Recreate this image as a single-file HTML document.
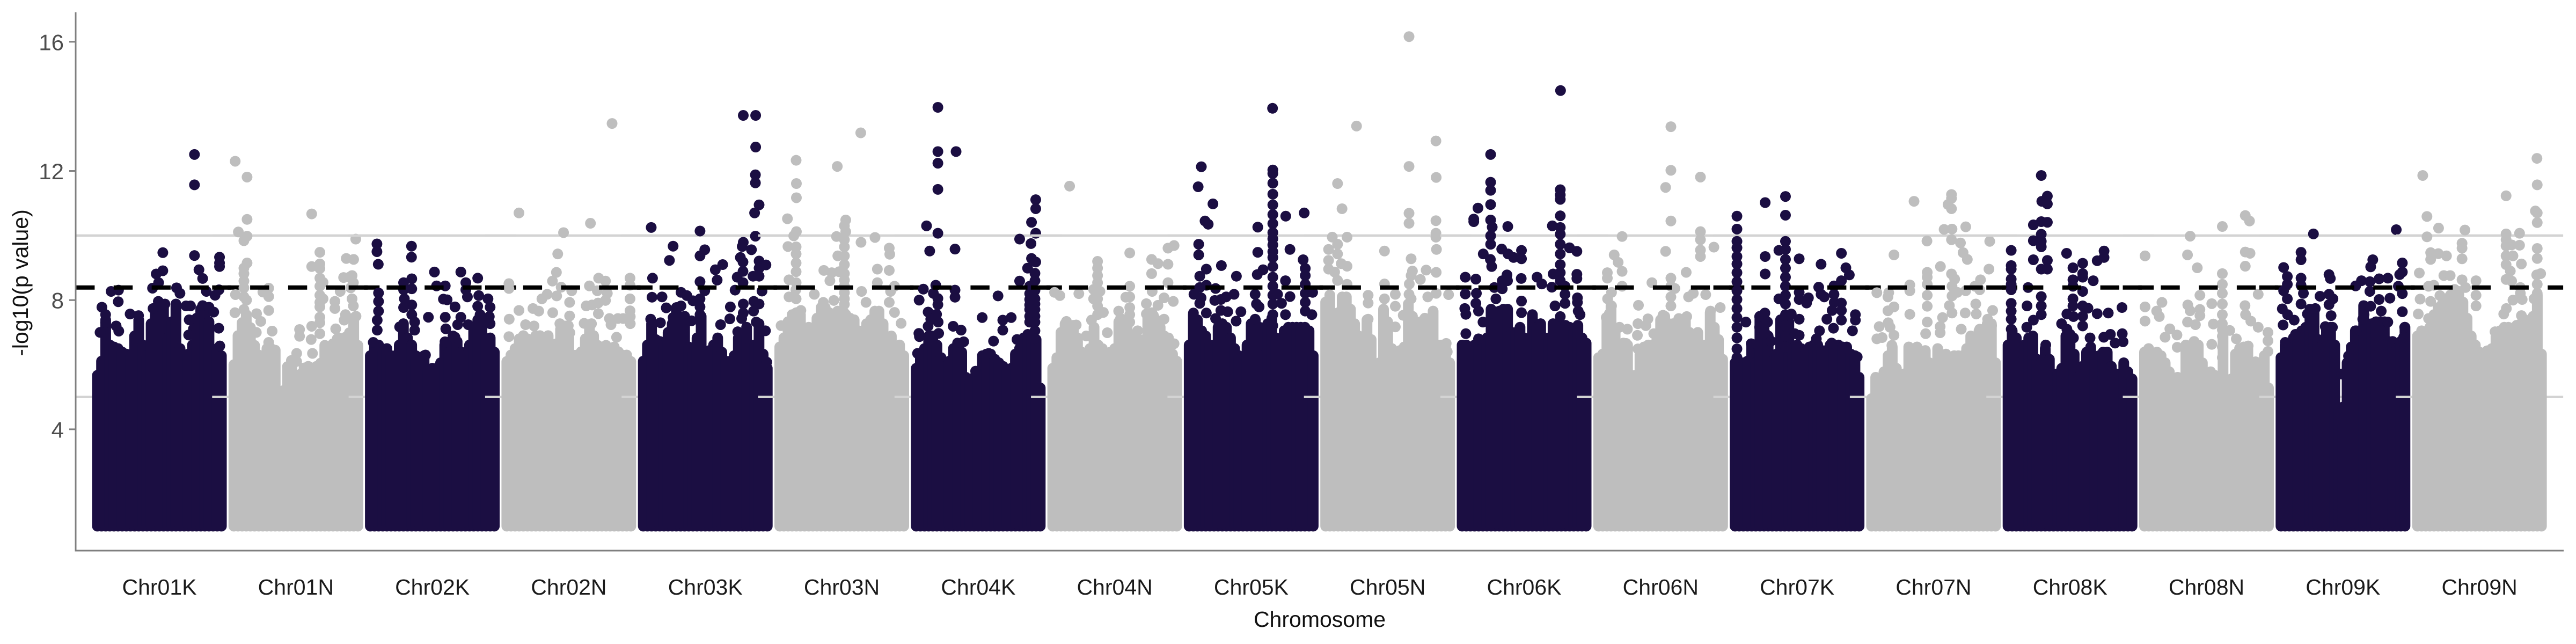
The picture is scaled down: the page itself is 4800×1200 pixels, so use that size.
<!DOCTYPE html>
<html lang="en">
<head>
<meta charset="utf-8">
<title>Manhattan plot</title>
<style>
html,body{margin:0;padding:0;background:#fff;width:4800px;height:1200px;overflow:hidden}
svg{display:block}
text{font-family:"Liberation Sans",sans-serif}
</style>
</head>
<body>
<svg id="chart" xmlns="http://www.w3.org/2000/svg" width="4800" height="1200" viewBox="0 0 4800 1200">
<rect x="0" y="0" width="4800" height="1200" fill="#ffffff"/>
<g id="panels"></g>
<g id="axes"></g>
<text x="2459" y="1168" font-size="41" fill="#111" text-anchor="middle">Chromosome</text>
<text transform="translate(52,527) rotate(-90)" font-size="41" fill="#111" text-anchor="middle">-log10(p value)</text>
</svg>
<script>
const categories=['Chr01K','Chr01N','Chr02K','Chr02N','Chr03K','Chr03N','Chr04K','Chr04N','Chr05K','Chr05N','Chr06K','Chr06N','Chr07K','Chr07N','Chr08K','Chr08N','Chr09K','Chr09N'];
const yTicks=[4,8,12,16];
const genomeWideThreshold=8.39;
const guideLevels=[10,5];
const baseLevel=1;

const top01K=[5.67,6.11,7.39,6.61,6.55,6.5,6.39,6.33,6.28,6.89,7.39,6.61,6.28,7.27,7.72,7.88,7.77,6.83,7.33,7.88,6.5,6.28,6.33,6.61,7.44,7.72,7.72,7.33,6.39,6.5,6.28];
const hits01K=[[368,12.51],[368,11.57],[248,9.47],[368,9.38],[463,9.33],[463,9.15],[463,9.04],[248,8.91],[223,8.81],[385,8.94],[399,8.67],[232,8.54],[209,8.37],[300,8.38],[313,8.21],[80,8.31],[52,8.27],[79,7.95],[17,7.78],[31,7.55],[31,7.3],[413,8.27],[461,8.32],[446,8.15],[336,7.82],[353,7.82],[399,7.83],[423,7.78],[441,7.63],[124,7.57],[156,7.52],[71,7.2],[81,7.04],[10,7.0],[348,7.39],[364,7.11],[346,6.92],[460,7.13],[464,6.58],[211,7.74],[231,7.96],[256,7.88]];

const top01N=[6.0,6.9,7.3,7.55,7.15,6.6,6.3,6.15,6.5,6.5,6.45,4.2,5.2,5.9,6.05,5.55,5.7,5.9,5.95,5.9,5.95,6.05,6.6,6.4,6.65,6.8,6.7,6.85,6.9,7.45,6.6];
const hits01N=[[5,12.3],[50,11.81],[50,10.5],[17,10.11],[50,9.98],[38,9.84],[295,10.67],[462,9.89],[326,9.48],[426,9.29],[454,9.26],[50,9.15],[38,8.99],[38,8.82],[38,8.59],[38,8.38],[38,8.1],[48,8.0],[6,8.17],[38,7.71],[4,7.61],[86,7.58],[43,7.38],[102,7.34],[132,8.37],[110,8.25],[132,8.11],[132,7.68],[145,7.04],[85,7.0],[132,6.69],[168,5.14],[295,9.04],[326,9.12],[326,8.98],[326,8.68],[338,8.55],[326,8.43],[326,8.15],[338,8.04],[326,7.93],[326,7.79],[383,7.96],[383,7.74],[326,7.47],[326,7.3],[295,7.19],[249,7.09],[249,6.88],[386,7.11],[326,6.96],[293,6.78],[298,6.35],[238,6.35],[218,6.13],[238,6.1],[203,5.94],[213,5.66],[210,5.25],[448,8.76],[416,8.7],[438,8.71],[453,8.54],[443,8.38],[403,8.27],[448,8.04],[453,7.82],[423,7.55],[463,7.5],[418,7.38],[453,7.19],[438,6.99],[398,6.83]];

const top02K=[6.28,6.55,6.61,6.39,6.5,6.28,6.28,6.61,7.27,6.83,6.61,6.28,6.17,6.28,5.83,5.89,5.89,6.06,6.61,6.39,6.89,6.72,6.39,6.28,6.61,7.16,7.39,7.33,6.78,6.83,6.39];
const hits02K=[[25,9.74],[25,9.5],[30,9.11],[156,9.67],[156,9.33],[243,8.87],[343,8.87],[362,8.54],[407,8.68],[251,8.44],[284,8.44],[157,8.66],[157,8.35],[126,8.54],[126,8.32],[362,8.32],[368,8.1],[31,8.22],[31,7.96],[31,7.66],[26,7.38],[26,7.07],[11,6.69],[129,8.04],[157,7.85],[126,7.77],[157,7.55],[168,7.32],[168,7.07],[111,7.17],[220,7.47],[277,8.03],[291,8.01],[321,7.79],[284,7.47],[286,7.11],[343,7.47],[331,7.24],[371,7.24],[411,8.14],[446,8.04],[407,7.81],[454,7.78],[451,7.49],[454,7.27],[416,7.55],[321,6.85],[209,6.3],[283,6.71]];

const top02N=[6.1,6.3,6.5,6.8,6.9,6.8,6.7,6.9,6.9,6.85,6.9,6.6,6.65,7.1,7.2,6.85,6.3,6.3,6.4,6.8,7.15,6.9,6.6,6.5,6.6,6.45,6.55,6.4,6.3,6.3,6.1];
const hits02N=[[46,10.7],[317,10.38],[215,10.09],[193,9.43],[188,8.86],[173,8.59],[8,8.51],[8,8.36],[206,8.4],[189,8.13],[246,8.29],[238,7.93],[153,8.18],[133,8.04],[313,8.44],[348,8.68],[374,8.59],[467,8.68],[467,8.46],[343,8.29],[381,8.21],[374,7.99],[346,7.91],[323,7.85],[301,7.82],[467,8.04],[46,7.68],[99,7.74],[121,7.66],[174,7.61],[238,7.51],[347,7.58],[9,7.41],[467,7.67],[8,6.87],[71,7.24],[103,7.2],[201,7.27],[233,7.21],[293,7.28],[389,7.43],[395,7.24],[421,7.43],[441,7.43],[468,7.49],[468,7.27],[239,6.99],[321,7.27],[416,6.85],[399,13.47]];

const top03K=[6.11,6.61,7.27,6.78,6.72,6.61,7.0,7.27,7.77,7.44,7.5,6.55,6.39,6.83,7.5,6.33,6.44,6.61,6.83,6.39,6.11,6.11,6.28,6.83,6.94,7.16,6.61,6.61,7.27,6.33,5.89];
const hits03K=[[379,13.72],[426,13.72],[426,12.74],[425,11.88],[425,11.63],[439,10.95],[422,10.7],[30,10.25],[215,10.14],[425,9.98],[379,9.79],[375,9.66],[410,9.56],[113,9.67],[233,9.56],[215,9.37],[99,9.23],[301,9.1],[273,8.94],[280,8.62],[368,9.32],[378,9.18],[378,8.89],[356,8.71],[378,8.54],[439,9.21],[465,9.09],[439,8.99],[416,8.74],[439,8.74],[35,8.68],[215,8.57],[348,8.31],[450,8.28],[143,8.24],[165,8.14],[33,8.09],[71,8.1],[233,8.29],[215,8.04],[188,7.98],[143,7.82],[215,7.79],[87,7.76],[330,7.79],[328,7.42],[379,7.88],[419,7.96],[439,7.88],[379,7.6],[418,7.66],[373,7.43],[428,7.32],[215,7.55],[113,7.46],[183,7.36],[28,7.41],[65,7.3],[293,7.24],[358,7.02],[463,7.05],[468,6.08]];

const top03N=[6.55,6.83,7.33,7.55,7.61,7.55,7.11,7.16,7.05,7.44,7.77,7.77,7.61,7.55,7.66,7.61,7.55,7.44,7.39,7.05,7.05,7.27,7.39,7.66,7.66,7.27,6.83,6.89,6.44,6.61,6.28];
const hits03N=[[307,13.18],[62,12.33],[218,12.14],[63,11.61],[63,11.17],[29,10.52],[63,10.12],[53,9.99],[31,9.66],[250,10.48],[250,10.12],[245,10.3],[245,9.87],[215,9.97],[361,9.94],[308,9.79],[415,9.61],[417,9.42],[370,8.96],[415,8.92],[167,8.92],[197,8.85],[225,8.88],[62,9.65],[62,9.43],[62,9.15],[62,8.88],[35,8.63],[62,8.54],[245,9.65],[245,9.37],[245,9.1],[245,8.82],[245,8.62],[245,8.23],[245,7.87],[245,7.6],[220,9.37],[190,8.6],[435,8.43],[370,8.54],[420,8.27],[310,8.27],[131,8.18],[35,8.1],[205,7.99],[245,8.43],[245,8.04],[415,7.93],[435,7.62],[460,7.28],[327,7.93],[165,7.93],[61,8.32],[62,8.04],[5,7.21],[80,7.68]];

const top04K=[5.89,6.28,6.5,6.89,6.89,6.61,6.22,5.95,6.11,6.5,6.67,6.39,5.61,5.45,5.61,5.72,6.28,6.33,6.33,6.17,6.06,5.95,5.83,5.89,6.33,6.5,6.83,6.94,6.94,6.78,5.28];
const hits04K=[[82,13.97],[82,12.6],[82,12.24],[151,12.6],[82,11.43],[39,10.3],[82,10.07],[51,9.52],[147,9.58],[453,11.11],[453,10.83],[437,10.41],[453,10.07],[392,9.89],[435,9.75],[437,9.29],[422,8.99],[450,8.83],[450,8.6],[392,8.59],[430,8.43],[430,8.2],[430,8.02],[430,7.85],[430,7.71],[430,7.5],[430,7.32],[453,9.18],[435,8.27],[450,8.3],[450,8.04],[450,7.88],[450,7.71],[450,7.5],[450,7.32],[450,7.05],[450,6.8],[74,8.46],[27,8.34],[65,8.21],[147,8.31],[147,8.09],[11,8.0],[310,8.13],[82,8.05],[82,7.86],[45,7.63],[77,7.56],[55,7.41],[83,7.32],[45,7.19],[250,7.46],[360,7.46],[328,7.38],[328,7.07],[293,6.73],[382,6.78],[140,7.19],[170,7.07],[10,6.97],[12,6.87],[85,6.97],[180,6.71],[275,6.35],[225,5.8],[5,6.35]];

const top04N=[5.89,6.22,7.0,7.27,7.22,7.22,6.83,6.39,6.28,6.5,7.16,6.61,6.5,6.33,6.39,6.5,7.33,6.61,7.33,6.22,6.89,6.33,6.72,7.55,7.61,7.39,7.16,6.89,6.83,6.33,6.11];
const hits04N=[[64,11.53],[170,9.2],[170,8.99],[170,8.76],[170,8.54],[155,8.33],[179,8.27],[170,8.04],[155,8.04],[170,7.82],[192,7.62],[170,7.55],[147,7.38],[7,8.24],[27,8.14],[99,8.2],[292,9.46],[437,9.61],[460,9.69],[375,9.26],[399,9.13],[437,9.11],[375,8.82],[437,8.54],[292,8.43],[377,8.27],[292,8.1],[277,8.09],[422,8.07],[457,7.96],[355,7.89],[399,7.84],[292,7.77],[250,7.66],[292,7.55],[355,7.57],[382,7.52],[422,7.41],[52,7.34],[89,7.23],[257,7.43],[292,7.32],[207,6.99],[127,6.89],[322,7.05],[460,6.65],[342,6.77]];

const top05K=[6.61,7.55,7.39,7.05,6.89,6.61,6.61,7.16,7.27,7.16,6.83,6.5,6.28,6.11,6.61,7.27,7.39,7.16,6.28,7.27,7.44,6.83,6.61,7.05,7.16,7.16,7.16,7.16,7.16,7.05,6.28];
const hits05K=[[316,13.94],[46,12.13],[34,11.51],[90,10.98],[60,10.45],[72,10.35],[36,9.73],[36,9.4],[122,9.07],[65,8.96],[40,8.74],[179,8.74],[65,8.46],[100,8.36],[40,8.39],[18,8.18],[45,8.07],[40,7.9],[170,8.18],[140,8.1],[120,8.02],[97,7.99],[65,7.6],[16,7.6],[120,7.68],[146,7.64],[196,7.64],[100,7.43],[178,7.35],[317,12.03],[317,11.92],[317,11.62],[317,11.28],[317,10.95],[317,10.65],[317,10.37],[317,10.09],[317,9.9],[317,9.71],[317,9.5],[317,9.32],[317,9.04],[317,8.71],[317,8.43],[317,8.15],[317,7.88],[317,7.55],[317,7.21],[280,8.94],[258,8.79],[260,10.26],[260,9.48],[366,10.6],[436,10.7],[382,9.57],[432,9.25],[440,8.98],[440,8.76],[440,8.49],[440,8.21],[440,7.93],[440,7.66],[365,8.6],[382,8.11],[468,8.24],[250,8.18],[255,7.88],[265,7.79],[350,7.9],[335,8.18],[365,7.55],[465,7.55],[250,7.41]];

const top05N=[7.94,8.16,7.55,7.61,8.1,8.1,7.72,7.27,6.89,6.44,7.39,6.78,5.72,6.06,7.72,7.33,6.5,6.33,6.44,6.55,7.88,7.5,6.55,7.33,7.44,6.94,7.66,6.61,6.61,6.61,6.06];
const hits05N=[[316,16.16],[117,13.39],[418,12.93],[316,12.14],[419,11.8],[45,11.61],[62,10.83],[316,10.69],[316,10.38],[418,10.46],[418,10.07],[418,9.95],[420,9.57],[223,9.52],[324,9.28],[419,8.86],[381,8.93],[329,8.9],[324,8.76],[359,8.64],[317,8.5],[223,8.5],[25,9.95],[81,9.95],[45,9.73],[11,9.57],[45,9.43],[11,9.23],[59,9.13],[81,9.05],[11,8.96],[34,8.87],[45,8.61],[81,8.49],[161,8.15],[161,7.91],[264,8.18],[264,7.81],[223,8.04],[466,8.17],[419,8.21],[387,8.1],[316,8.18],[324,8.04],[294,7.53],[161,7.41],[264,7.17],[457,6.66],[461,6.4],[191,5.77],[259,6.33]];

const top06K=[6.61,6.61,6.55,6.61,6.72,6.55,6.83,7.72,7.61,7.66,7.72,7.72,7.0,7.0,7.16,6.83,6.78,7.55,7.16,7.27,6.83,6.83,7.27,7.27,7.22,7.22,7.16,7.11,7.22,6.83,6.67];
const hits06K=[[373,14.49],[108,12.51],[108,11.65],[108,11.4],[108,10.96],[60,10.85],[44,10.51],[44,10.43],[108,10.48],[114,10.26],[108,9.99],[108,9.73],[173,10.28],[372,11.42],[372,11.26],[372,11.12],[372,10.61],[342,10.3],[372,10.25],[372,10.04],[372,9.73],[372,9.43],[372,9.1],[372,8.85],[345,8.81],[372,8.6],[390,8.43],[340,8.4],[390,8.18],[390,7.9],[407,9.62],[435,9.51],[435,8.8],[435,8.67],[437,8.07],[437,7.93],[440,7.66],[447,7.55],[352,7.82],[372,7.49],[80,9.43],[107,9.26],[112,9.04],[150,9.58],[174,9.43],[195,9.32],[225,9.54],[225,9.28],[170,8.78],[152,8.6],[172,8.6],[152,8.35],[122,8.39],[224,8.67],[284,8.71],[302,8.5],[12,8.71],[52,8.65],[12,8.19],[54,8.21],[128,8.04],[52,7.9],[10,7.74],[62,7.66],[14,7.56],[225,7.97],[225,7.61],[79,7.32],[14,6.96],[62,6.8],[112,7.6]];

const top06N=[6.22,6.33,7.39,7.83,7.0,6.61,6.67,6.61,5.67,5.67,6.33,6.55,6.61,6.61,6.72,7.39,7.5,7.27,7.27,7.27,7.27,7.44,7.0,6.55,7.0,6.61,6.61,7.61,7.16,6.78,6.17];
const hits06N=[[274,13.37],[274,12.02],[254,11.49],[386,11.81],[274,10.45],[254,9.51],[386,10.12],[386,9.87],[386,9.55],[386,9.35],[437,9.64],[89,9.97],[59,9.4],[74,9.17],[89,8.89],[33,8.85],[33,8.68],[89,8.43],[274,8.68],[274,8.43],[332,8.86],[202,8.54],[289,8.36],[49,8.24],[34,8.04],[49,7.82],[40,7.57],[29,7.46],[274,8.1],[274,7.82],[359,8.21],[341,8.1],[406,8.17],[461,7.77],[151,7.84],[187,7.42],[244,7.53],[424,7.66],[34,7.1],[79,7.16],[109,7.1],[149,7.27],[179,7.21],[147,6.91],[209,6.96],[39,6.77],[104,6.66],[149,6.49],[304,7.43],[334,7.49]];

const top07K=[6.06,5.89,6.06,6.11,6.61,6.06,7.5,7.55,6.89,6.11,6.33,7.39,7.39,7.33,6.5,6.61,6.5,6.39,6.55,6.61,6.61,6.44,6.44,6.61,6.5,6.61,6.55,6.55,6.33,6.28,5.61];
const hits07K=[[7,10.6],[7,10.2],[7,9.82],[7,9.62],[7,9.35],[7,9.12],[7,8.85],[7,8.57],[7,8.29],[7,8.02],[7,7.74],[7,7.46],[7,7.16],[7,6.83],[7,6.49],[7,6.22],[114,11.02],[191,11.21],[191,10.63],[191,9.82],[166,9.54],[191,9.57],[191,9.26],[191,8.99],[191,8.71],[191,8.43],[191,8.15],[191,7.88],[191,7.55],[191,7.21],[191,6.88],[191,6.55],[114,9.35],[114,8.81],[243,9.28],[326,9.11],[403,9.45],[420,9.0],[433,8.78],[403,8.6],[375,8.44],[317,8.4],[326,8.18],[338,8.1],[243,8.24],[243,8.02],[278,8.07],[271,7.91],[166,8.04],[375,8.18],[376,7.93],[403,7.91],[368,7.68],[403,7.68],[456,7.55],[456,7.38],[243,7.41],[213,7.57],[41,7.32],[348,7.41],[403,7.38],[373,7.13],[320,7.05],[445,7.05],[113,7.6],[93,7.49],[123,7.32],[93,7.16],[113,6.99],[136,6.73],[61,6.65],[226,6.96],[243,6.91],[308,6.8],[366,6.67],[463,6.24]];

const top07N=[4.95,5.61,5.17,5.78,6.28,6.55,5.89,5.67,5.72,6.55,5.95,6.55,6.06,6.44,6.06,6.0,6.5,6.0,6.33,6.22,6.28,6.28,6.28,6.5,6.89,6.61,7.05,6.89,7.27,7.27,6.06];
const hits07N=[[161,11.06],[303,11.27],[303,11.15],[290,10.96],[303,10.83],[357,10.27],[275,10.19],[305,10.2],[210,9.83],[303,9.87],[337,9.77],[448,9.82],[347,9.47],[363,9.26],[85,9.4],[261,9.04],[445,8.96],[211,8.86],[211,8.71],[303,8.81],[315,8.65],[413,8.63],[211,8.49],[145,8.47],[145,8.29],[305,8.43],[325,8.24],[305,8.13],[392,8.43],[357,8.29],[410,8.32],[20,8.23],[65,8.23],[62,8.1],[211,8.15],[211,7.81],[85,7.79],[62,7.67],[145,7.56],[395,7.88],[397,7.57],[295,7.83],[459,7.68],[355,7.6],[269,7.46],[305,7.6],[440,7.41],[455,7.21],[211,7.32],[63,7.3],[29,7.18],[70,7.16],[85,6.91],[20,6.8],[40,6.84],[260,7.18],[260,6.99],[340,7.1],[410,7.1],[77,6.6],[205,6.96]];

const top08K=[6.61,7.05,6.83,6.06,6.61,6.83,6.89,6.17,6.06,6.5,6.17,5.22,5.72,5.89,6.89,6.94,6.33,5.61,5.95,6.39,6.55,6.17,6.28,6.39,6.39,5.95,5.72,5.67,6.06,5.78,5.56];
const hits08K=[[126,11.86],[149,11.22],[128,11.06],[149,10.98],[126,10.43],[149,10.41],[96,10.33],[126,10.04],[96,9.84],[126,9.82],[126,9.65],[12,9.54],[96,9.25],[149,9.23],[126,8.96],[149,8.96],[12,9.07],[12,8.96],[12,8.65],[12,8.49],[12,8.32],[76,8.39],[12,7.9],[12,7.66],[12,7.41],[12,7.1],[72,7.82],[126,8.11],[126,7.82],[126,7.55],[96,7.38],[71,7.16],[222,9.45],[283,9.14],[246,9.0],[364,9.52],[364,9.32],[338,9.22],[283,8.82],[283,8.71],[323,8.6],[246,8.63],[283,8.27],[246,8.43],[246,8.04],[246,7.82],[283,7.82],[303,7.75],[432,7.77],[338,7.58],[380,7.6],[223,7.57],[248,7.49],[283,7.5],[283,7.2],[203,7.27],[223,7.1],[433,6.96],[388,6.94],[363,6.85],[311,6.83],[436,6.71],[406,6.67],[143,6.61],[248,6.83]];

const top08N=[6.39,6.5,5.89,6.39,6.28,6.06,5.78,5.39,5.61,5.56,6.61,6.55,6.72,6.61,6.06,5.61,5.78,5.67,5.61,6.89,5.5,5.56,6.33,6.5,6.55,6.55,5.83,5.83,6.0,6.28,5.28];
const hits08N=[[382,10.62],[398,10.45],[295,10.28],[173,9.98],[2,9.37],[163,9.4],[382,9.49],[400,9.45],[382,9.05],[200,9.0],[295,8.82],[295,8.49],[295,8.21],[295,7.88],[295,7.55],[295,7.27],[295,7.08],[295,6.88],[295,6.55],[295,6.22],[431,8.18],[210,8.15],[255,7.89],[66,7.93],[2,7.79],[164,7.85],[46,7.66],[210,7.71],[173,7.67],[381,7.83],[383,7.55],[210,7.52],[56,7.49],[2,7.35],[163,7.32],[261,7.26],[323,7.06],[403,7.35],[431,7.16],[468,7.0],[468,6.74],[123,6.92],[124,6.54],[255,6.63],[96,7.11],[78,6.85],[348,6.8],[393,6.58],[468,6.41],[421,6.09],[93,5.73],[193,7.24]];

const top09K=[6.22,6.61,6.44,6.83,6.94,7.05,7.16,7.72,7.72,6.78,6.61,7.16,7.16,6.61,4.67,4.17,6.06,6.55,7.05,7.05,7.83,7.27,7.27,7.33,7.33,7.33,6.72,6.72,6.5,6.72,7.16];
const hits09K=[[123,10.05],[437,10.18],[76,9.48],[76,9.25],[10,9.01],[24,8.73],[24,8.49],[10,8.29],[24,8.04],[5,7.73],[25,7.55],[76,8.68],[76,8.46],[85,8.21],[76,7.88],[50,7.38],[8,7.23],[182,8.79],[187,8.67],[148,8.12],[182,8.18],[197,8.04],[182,7.86],[130,7.74],[100,7.57],[190,7.52],[168,7.18],[195,7.16],[55,6.94],[16,6.69],[230,5.71],[235,4.69],[348,9.25],[340,9.03],[305,8.6],[337,8.57],[283,8.44],[372,8.66],[405,8.68],[460,9.15],[460,8.87],[450,8.79],[445,8.43],[460,8.2],[337,8.27],[413,8.06],[372,8.02],[315,7.82],[340,7.81],[460,7.64],[380,7.66],[315,7.55],[310,7.41],[405,7.32],[469,7.16],[285,7.05],[465,6.85],[256,6.27]];

const top09N=[6.89,7.05,7.0,7.16,7.55,7.77,7.88,8.05,8.16,8.33,8.27,7.94,7.44,6.89,6.61,6.39,6.28,6.39,6.5,6.89,7.05,7.16,7.16,7.11,7.22,7.27,7.39,7.33,7.5,8.16,6.33];
const hits09N=[[453,12.39],[454,11.57],[20,11.86],[336,11.23],[447,10.76],[454,10.7],[454,10.4],[36,10.59],[80,10.23],[180,10.17],[36,9.96],[336,10.05],[336,9.87],[336,9.68],[336,9.37],[336,9.1],[352,8.9],[336,8.64],[357,8.59],[387,10.07],[357,9.71],[387,9.7],[362,9.37],[394,9.12],[454,9.6],[454,9.29],[467,8.82],[452,8.78],[454,8.49],[454,8.21],[442,8.04],[50,9.47],[79,9.44],[110,9.37],[50,9.26],[169,9.76],[169,9.61],[169,9.28],[7,8.84],[222,8.6],[222,8.15],[222,7.82],[182,8.39],[100,8.76],[124,8.76],[169,8.63],[42,8.43],[62,8.46],[85,8.14],[10,8.03],[50,7.96],[390,8.39],[390,8.21],[362,8.0],[397,8.02],[337,7.74],[327,7.57],[3,7.57],[394,7.52],[294,7.02],[264,6.43],[42,7.43]];

const topSets=[top01K,top01N,top02K,top02N,top03K,top03N,top04K,top04N,top05K,top05N,top06K,top06N,top07K,top07N,top08K,top08N,top09K,top09N];
const hitSets=[hits01K,hits01N,hits02K,hits02N,hits03K,hits03N,hits04K,hits04N,hits05K,hits05N,hits06K,hits06N,hits07K,hits07N,hits08K,hits08N,hits09K,hits09N];

const NS='http://www.w3.org/2000/svg';
const DOT_R=10;
const PANEL_STEP=254.3;
const PANEL_LEFT=141;
const PANEL_W=312;
const CHR_INSET=40.5;
const CHR_UNITS=470;
const colors=['#1b0e42','#bebebe'];

function panelX(i){return PANEL_LEFT+i*PANEL_STEP;}
function xScale(i,pos){return panelX(i)+CHR_INSET+pos*(231/CHR_UNITS);}
function yScale(v){return 799.9-(v-4)*60.17;}

function make(tag,attrs,parent){
  const el=document.createElementNS(NS,tag);
  for(const k in attrs){el.setAttribute(k,attrs[k]);}
  parent.appendChild(el);
  return el;
}

const panels=document.getElementById('panels');
categories.forEach(function(name,i){
  const g=make('g',{},panels);
  
  
  const x1=panelX(i);
  const x2=Math.min(x1+PANEL_W,4777);
  guideLevels.forEach(function(level){
    const guide=make('line',{x1:x1,x2:x2,y1:yScale(level),y2:yScale(level),stroke:'#d3d3d3','stroke-width':4.5},g);
    
    
  });
  const color=colors[i%2];
  const tops=topSets[i];
  const step=CHR_UNITS/(tops.length-1);
  tops.forEach(function(v,k){
    const x=xScale(i,k*step);
    const col=make('line',{x1:x,x2:x,y1:yScale(baseLevel),y2:yScale(v),stroke:color,'stroke-width':DOT_R*2,'stroke-linecap':'round'},g);
    
    
  });
  hitSets[i].forEach(function(p){
    const dot=make('circle',{cx:xScale(i,p[0]),cy:yScale(p[1]),r:DOT_R,fill:color},g);
    
    
  });
  const dash=make('line',{x1:x1,x2:x2,y1:yScale(genomeWideThreshold),y2:yScale(genomeWideThreshold),stroke:'#000','stroke-width':8,'stroke-dasharray':'35.4 35.4'},g);
  
  
  const label=make('text',{x:xScale(i,CHR_UNITS/2),y:1108,'font-size':41,fill:'#1a1a1a','text-anchor':'middle'},g);
  
  
  label.textContent=name;
});

const axes=document.getElementById('axes');
const yAxis=make('line',{x1:141,x2:141,y1:23,y2:1027.5,stroke:'#7f7f7f','stroke-width':3},axes);


const xAxis=make('line',{x1:139.5,x2:4777,y1:1026,y2:1026,stroke:'#7f7f7f','stroke-width':3},axes);


yTicks.forEach(function(t){
  const mark=make('line',{x1:129,x2:141,y1:yScale(t),y2:yScale(t),stroke:'#7f7f7f','stroke-width':3},axes);
  
  
  const tl=make('text',{x:119,y:yScale(t)+15.5,'font-size':42,fill:'#4d4d4d','text-anchor':'end'},axes);
  
  
  tl.textContent=t;
});
</script>
</body>
</html>
